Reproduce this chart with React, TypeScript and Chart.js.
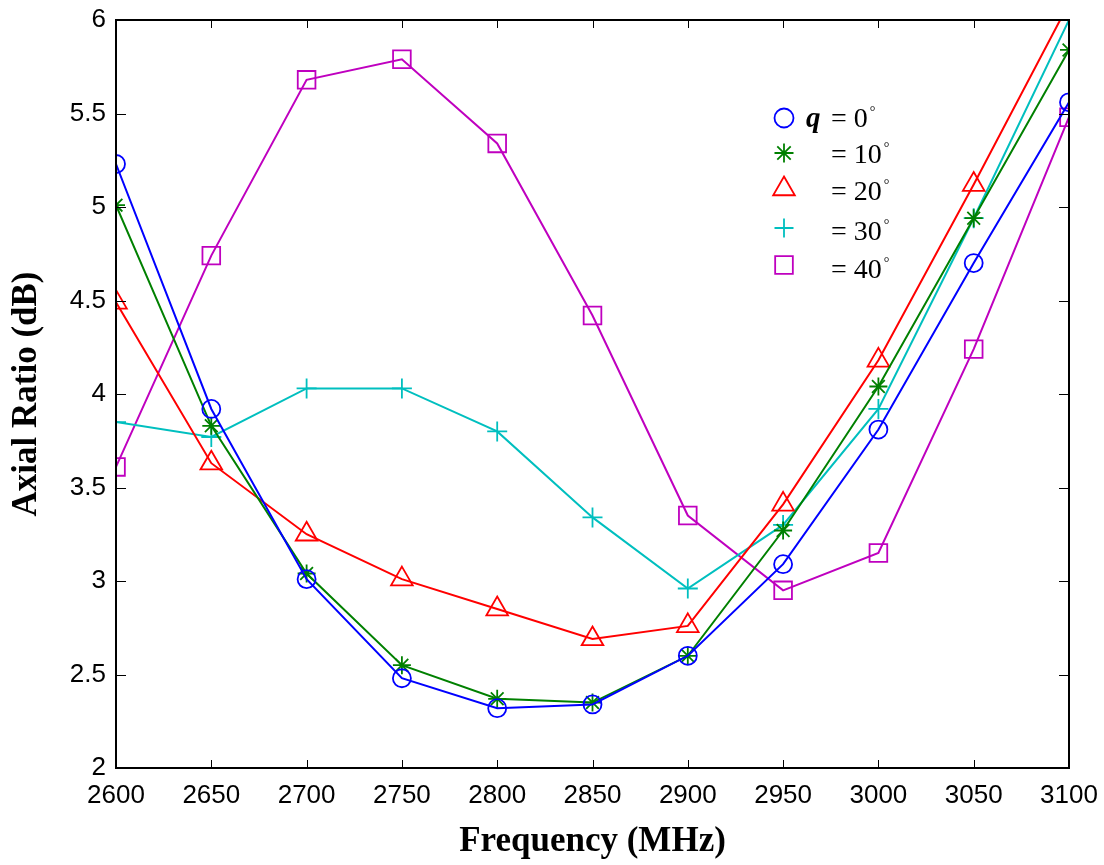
import React, { useEffect, useRef } from 'react';
import { Chart, registerables } from 'chart.js';

Chart.register(...registerables);

const freqs = [2600, 2650, 2700, 2750, 2800, 2850, 2900, 2950, 3000, 3050, 3100];
const ar0 = [5.23, 3.92, 3.01, 2.48, 2.32, 2.34, 2.6, 3.09, 3.81, 4.7, 5.56];
const ar10 = [5.01, 3.83, 3.04, 2.55, 2.37, 2.35, 2.6, 3.27, 4.04, 4.94, 5.84];
const ar20 = [4.49, 3.63, 3.25, 3.01, 2.85, 2.69, 2.76, 3.41, 4.18, 5.12, 6.09];
const ar30 = [3.85, 3.77, 4.03, 4.03, 3.8, 3.34, 2.96, 3.3, 3.92, 4.94, 6.0];
const ar40 = [3.61, 4.74, 5.68, 5.79, 5.34, 4.42, 3.35, 2.95, 3.15, 4.24, 5.48];

const legendNums = ['0', '10', '20', '30', '40'];
const colors = ['#0000FF', '#008000', '#FF0000', '#00BFBF', '#BF00BF'];
const styles = ['circle', 'star', 'triangle', 'cross', 'rect'];
const radii = [9, 9, 12.5, 10, 12.5];
const allSeries = [ar0, ar10, ar20, ar30, ar40];

function drawMarker(ctx: CanvasRenderingContext2D, style: string, x: number, y: number, r: number) {
  ctx.beginPath();
  if (style === 'circle') {
    ctx.arc(x, y, r, 0, Math.PI * 2);
  } else if (style === 'star') {
    for (let k = 0; k < 4; k++) {
      const a = (k * Math.PI) / 4;
      ctx.moveTo(x - Math.cos(a) * r, y - Math.sin(a) * r);
      ctx.lineTo(x + Math.cos(a) * r, y + Math.sin(a) * r);
    }
  } else if (style === 'triangle') {
    let rad = 0;
    ctx.moveTo(x + Math.sin(rad) * r, y - Math.cos(rad) * r);
    rad += (2 * Math.PI) / 3;
    ctx.lineTo(x + Math.sin(rad) * r, y - Math.cos(rad) * r);
    rad += (2 * Math.PI) / 3;
    ctx.lineTo(x + Math.sin(rad) * r, y - Math.cos(rad) * r);
    ctx.closePath();
  } else if (style === 'cross') {
    ctx.moveTo(x - r, y);
    ctx.lineTo(x + r, y);
    ctx.moveTo(x, y - r);
    ctx.lineTo(x, y + r);
  } else {
    const s = r * Math.SQRT1_2;
    ctx.rect(x - s, y - s, 2 * s, 2 * s);
  }
  ctx.stroke();
}

const framePlugin = {
  id: 'frame',
  afterDatasetsDraw(chart: any) {
    const { ctx, chartArea: a, scales } = chart;
    ctx.save();
    ctx.strokeStyle = '#000';
    ctx.lineWidth = 1;
    ctx.beginPath();
    scales.x.ticks.forEach((t: any) => {
      const px = Math.round(scales.x.getPixelForValue(t.value)) + 0.5;
      ctx.moveTo(px, a.bottom);
      ctx.lineTo(px, a.bottom - 8);
      ctx.moveTo(px, a.top);
      ctx.lineTo(px, a.top + 8);
    });
    scales.y.ticks.forEach((t: any) => {
      const py = Math.round(scales.y.getPixelForValue(t.value)) + 0.5;
      ctx.moveTo(a.left, py);
      ctx.lineTo(a.left + 10, py);
      ctx.moveTo(a.right, py);
      ctx.lineTo(a.right - 10, py);
    });
    ctx.stroke();
    ctx.lineWidth = 2;
    ctx.strokeRect(a.left, a.top, a.right - a.left, a.bottom - a.top);
    ctx.restore();
  },
};

const legendPlugin = {
  id: 'customLegend',
  afterDraw(chart: any) {
    const { ctx } = chart;
    const markerX = 784;
    const markerYs = [118, 153, 189, 228, 265];
    const baselines = [127, 163, 200, 240, 278];
    ctx.save();
    for (let i = 0; i < 5; i++) {
      ctx.strokeStyle = colors[i];
      ctx.lineWidth = 1.8;
      drawMarker(ctx, styles[i], markerX, markerYs[i], i === 2 || i === 4 ? 12.5 : 9.5);
      ctx.fillStyle = '#000';
      ctx.textBaseline = 'alphabetic';
      ctx.textAlign = 'left';
      if (i === 0) {
        ctx.font = 'italic bold 29px "Liberation Serif"';
        ctx.fillText('q', 806, baselines[i]);
      }
      ctx.font = '28px "Liberation Serif"';
      const txt = '= ' + legendNums[i];
      ctx.fillText(txt, 831, baselines[i]);
      const w = ctx.measureText(txt).width;
      ctx.font = '14px "Liberation Serif"';
      ctx.fillText('°', 831 + w + 2, baselines[i] - 11);
    }
    ctx.restore();
  },
};

function zeroPadding(scale: any) {
  scale.paddingLeft = 0;
  scale.paddingRight = 0;
  scale.paddingTop = 0;
  scale.paddingBottom = 0;
}

export default function App() {
  const canvasRef = useRef<HTMLCanvasElement>(null);

  useEffect(() => {
    document.body.style.margin = '0';
    const canvas = canvasRef.current;
    if (!canvas) return;
    const chart = new Chart(canvas, {
      type: 'line',
      data: {
        datasets: allSeries.map((s, i) => ({
          label: 'q = ' + legendNums[i] + '°',
          data: freqs.map((f, j) => ({ x: f, y: s[j] })),
          borderColor: colors[i],
          backgroundColor: 'rgba(0,0,0,0)',
          borderWidth: 2,
          pointStyle: styles[i] as any,
          pointRadius: radii[i],
          pointBorderColor: colors[i],
          pointBackgroundColor: 'rgba(0,0,0,0)',
          pointBorderWidth: 1.8,
          tension: 0,
          fill: false,
        })),
      },
      options: {
        responsive: false,
        devicePixelRatio: 1,
        animation: false,
        events: [],
        layout: { autoPadding: false, padding: { top: 20, right: 35, left: 0, bottom: 0 } },
        plugins: {
          legend: { display: false },
          tooltip: { enabled: false },
          title: { display: false },
        },
        scales: {
          x: {
            type: 'linear',
            min: 2600,
            max: 3100,
            afterFit: (scale: any) => {
              scale.height = 97;
              zeroPadding(scale);
            },
            grid: { display: false, drawTicks: false },
            border: { display: false },
            ticks: {
              stepSize: 50,
              padding: 12,
              color: '#000',
              font: { family: '"Liberation Sans", Arial, sans-serif', size: 26 },
              callback: (v: any) => String(v),
            },
            title: {
              display: true,
              text: 'Frequency (MHz)',
              color: '#000',
              font: { family: '"Liberation Serif", "Times New Roman", serif', size: 35, weight: 'bold' },
              padding: { top: 0, bottom: 2 },
            },
          },
          y: {
            type: 'linear',
            min: 2,
            max: 6,
            afterFit: (scale: any) => {
              scale.width = 116;
              zeroPadding(scale);
            },
            grid: { display: false, drawTicks: false },
            border: { display: false },
            ticks: {
              stepSize: 0.5,
              padding: 10,
              color: '#000',
              font: { family: '"Liberation Sans", Arial, sans-serif', size: 26 },
              callback: (v: any) => String(v),
            },
            title: {
              display: true,
              text: 'Axial Ratio (dB)',
              color: '#000',
              font: { family: '"Liberation Serif", "Times New Roman", serif', size: 35, weight: 'bold' },
              padding: { top: 6, bottom: 0 },
            },
          },
        },
      },
      plugins: [framePlugin, legendPlugin],
    });
    return () => chart.destroy();
  }, []);

  return (
    <div style={{ width: 1104, height: 865, position: 'relative', background: '#fff' }}>
      <canvas ref={canvasRef} width={1104} height={865} style={{ display: 'block' }} />
    </div>
  );
}
